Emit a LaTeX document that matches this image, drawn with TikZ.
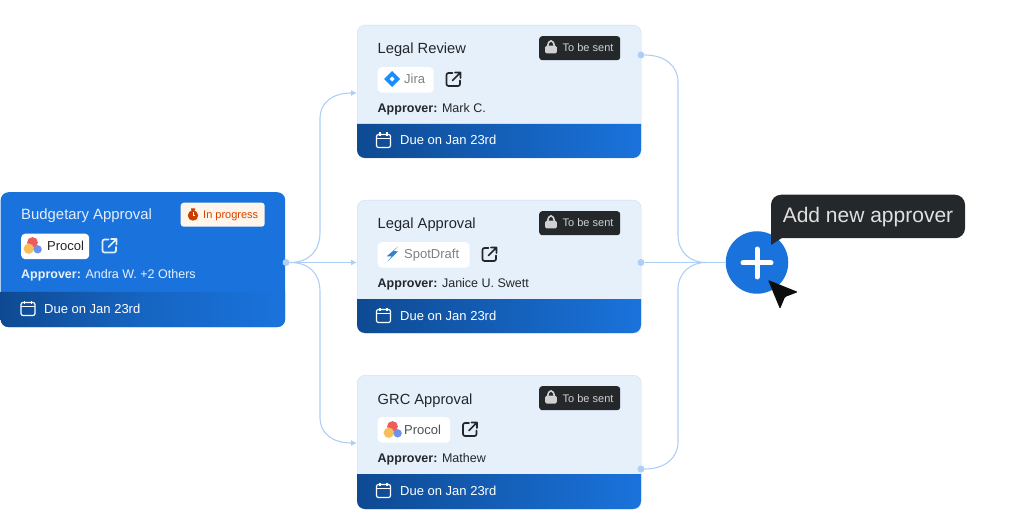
\documentclass[tikz,border=0pt]{standalone}
\usepackage{fontspec}
\setmainfont{Liberation Sans}
\usetikzlibrary{arrows.meta}
\definecolor{cardblue}{HTML}{1A73DC}
\definecolor{footdark}{HTML}{0E4A92}
\definecolor{cardlight}{HTML}{E6F0FB}
\definecolor{cardedge}{HTML}{C9DFF7}
\definecolor{flowblue}{HTML}{ADCFF5}
\definecolor{tipdark}{HTML}{24282B}
\definecolor{inktext}{HTML}{23272B}
\definecolor{logored}{HTML}{EF5A5A}
\definecolor{logoamber}{HTML}{F9BE5C}
\definecolor{logoblue}{HTML}{6C93EA}
\tikzset{
  lightcard/.style={draw=cardedge,fill=cardlight,rounded corners=8,anchor=north west,inner sep=0,minimum width=284,minimum height=#1},
  chipbox/.style={fill=white,rounded corners=4,anchor=north west,inner sep=0,minimum height=25.5,minimum width=#1},
  sentbox/.style={fill=tipdark,rounded corners=3,anchor=north west,inner sep=0,minimum width=81,minimum height=24},
  txt/.style={anchor=base west,inner sep=0,font=\fontsize{#1}{#1}\selectfont},
  flow/.style={draw=flowblue,line width=1.1},
  flowend/.style={flow,-{Latex[length=6,width=6]}},
  flowdot/.style={circle,fill=flowblue,inner sep=0,minimum size=7},
  calicon/.pic={\draw[line width=1.2,rounded corners=2] (-7,-6) rectangle (7,7);\draw[line width=1.2] (-7,-2)--(7,-2) (-3.5,-8)--(-3.5,-4.5) (3.5,-8)--(3.5,-4.5);},
  exticon/.pic={\draw[line width=1.7,rounded corners=2,line cap=round] (-1,-6.5)--(-7,-6.5)--(-7,6.5)--(6.5,6.5)--(6.5,1);\draw[line width=1.7,line cap=round,line join=round] (-1,1)--(7,-7) (1.5,-7)--(7,-7)--(7,-1.5);},
  lockicon/.pic={\draw[line width=1.6] (-3.2,-1) .. controls (-3.2,-8.5) and (3.2,-8.5) .. (3.2,-1);\fill[rounded corners=1.5] (-5.8,-1.8) rectangle (5.8,6);},
  procollogo/.pic={\fill[logored] (-0.5,-4) circle (5.4);\fill[logoamber] (-4.2,2.2) circle (5.2);\fill[logoblue] (4.6,2.8) circle (4.2);},
}
\begin{document}
\begin{tikzpicture}[x=1pt,y=-1pt]
\useasboundingbox (0,0) rectangle (1024,518);
\node[fill=cardblue,rounded corners=8,anchor=north west,inner sep=0,minimum width=284.5,minimum height=135] (budget) at (0.5,192) {};
\shade[left color=footdark,right color=cardblue,middle color=cardblue!65!footdark,shading angle=90] (0.5,292)--(285,292) [rounded corners=8]--(285,327)--(0.5,327) [sharp corners]--cycle;
\node[txt=14.9,white!88!cardblue] (budgettitle) at (21,220) {Budgetary Approval};
\node[fill=orange!8!white,rounded corners=3,anchor=north west,inner sep=0,minimum width=84,minimum height=24] (budgetbadge) at (180.5,202.5) {};
\fill[orange!60!red!80!black] (193,215.5) circle (5.2) (191,208.5) rectangle (195,210.5);
\draw[white,line width=0.7] (193,212.5)--(193,215.5)--(195,215.5);
\node[txt=11,orange!60!red!85!black] (budgetstate) at (203,218.5) {In progress};
\node[chipbox=68] (budgetchip) at (21,233.5) {};
\pic at (33,246.5) {procollogo};
\node[txt=13,inktext] (budgettool) at (47,250.5) {Procol};
\pic[white!88!cardblue] at (109.5,246) {exticon};
\node[txt=12.5,white!90!cardblue] (budgetname) at (21,279) {\textbf{Approver:} Andra W. +2 Others};
\pic[white] at (28,308.5) {calicon};
\node[txt=13,white] (budgetdue) at (44,313) {Due on Jan 23rd};
\foreach \nm/\ttl/\yy/\hh/\cw/\tool/\toolcol/\who in {review/Legal Review/25/133/56/Jira/gray/Mark C.,legal/Legal Approval/200/133/92/SpotDraft/gray/Janice U. Swett,grc/GRC Approval/375/134/72.5/Procol/inktext!80!white/Mathew}{
  \node[lightcard=\hh] (\nm) at (357,\yy) {};
  \shade[left color=footdark,right color=cardblue] (357,\yy+99)--(641,\yy+99) [rounded corners=8]--(641,\yy+\hh)--(357,\yy+\hh) [sharp corners]--cycle;
  \node[txt=14.7,inktext] (\nm title) at (377.5,\yy+29) {\ttl};
  \node[sentbox] (\nm badge) at (539,\yy+11) {};
  \pic[white!82!black] at (551,\yy+22.5) {lockicon};
  \node[txt=11,white!82!black] (\nm state) at (562.5,\yy+27) {To be sent};
  \node[chipbox=\cw] (\nm chip) at (377.5,\yy+42) {};
  \node[txt=13,\toolcol] (\nm tool) at (404,\yy+59) {\tool};
  \pic[inktext] at (377.5+\cw+20,\yy+54.5) {exticon};
  \node[txt=12.5,inktext] (\nm name) at (377.5,\yy+87.5) {\textbf{Approver:} \who};
  \pic[white] at (383.5,\yy+115.5) {calicon};
  \node[txt=13,white] (\nm due) at (400,\yy+120) {Due on Jan 23rd};
}
\fill[blue!50!cyan!90!white] (392,71)--(400,79)--(392,87)--(384,79)--cycle;
\fill[white] (392,76.5)--(394.5,79)--(392,81.5)--(389.5,79)--cycle;
\fill[cyan!55!blue!85!white] (398,246.5)--(386.5,256.5)--(391.5,256.5)--(387.5,261.5)--(398,251.5)--(393.5,251)--cycle;
\pic at (393,430.5) {procollogo};
\node[flowdot] (budgetdot) at (286,262.5) {};
\node[flowdot] (reviewdot) at (641,55) {};
\node[flowdot] (legaldot) at (641,262.5) {};
\node[flowdot] (grcdot) at (641,469) {};
\node[circle,fill=cardblue,inner sep=0,minimum size=62.5] (addbtn) at (757,262.5) {};
\coordinate (reviewin) at (357,93);\coordinate (legalin) at (357,262.5);\coordinate (grcin) at (357,443);\coordinate (merge) at (706,262.5);
\draw[flowend] (budgetdot)--(legalin);
\draw[flowend] (budgetdot) .. controls (310,262.5) and (320,250) .. (320,232)--(320,118) .. controls (320,103) and (332,93) .. (reviewin);
\draw[flowend] (budgetdot) .. controls (310,262.5) and (320,274) .. (320,292)--(320,418) .. controls (320,433) and (332,443) .. (grcin);
\draw[flow] (legaldot)--(addbtn);
\draw[flow] (reviewdot) .. controls (665,55) and (678,66) .. (678,82)--(678,235) .. controls (678,252) and (690,262.5) .. (merge);
\draw[flow] (grcdot) .. controls (665,469) and (678,458) .. (678,442)--(678,290) .. controls (678,273) and (690,262.5) .. (merge);
\draw[white,line width=5,line cap=round] (743,263)--(771,263) (757,249)--(757,277);
\fill[tipdark] (771,225)--(771,245)--(785,236)--cycle;
\node[fill=tipdark,rounded corners=10,inner sep=0,minimum width=194,minimum height=43.5,text height=16,text depth=3,font=\fontsize{21}{21}\selectfont,text=white!88!black] (tip) at (868,216.5) {Add new approver};
\fill[black!95!white,rounded corners=1] (768,280)--(798,292)--(785,297)--(780,309)--cycle;
\end{tikzpicture}
\end{document}
